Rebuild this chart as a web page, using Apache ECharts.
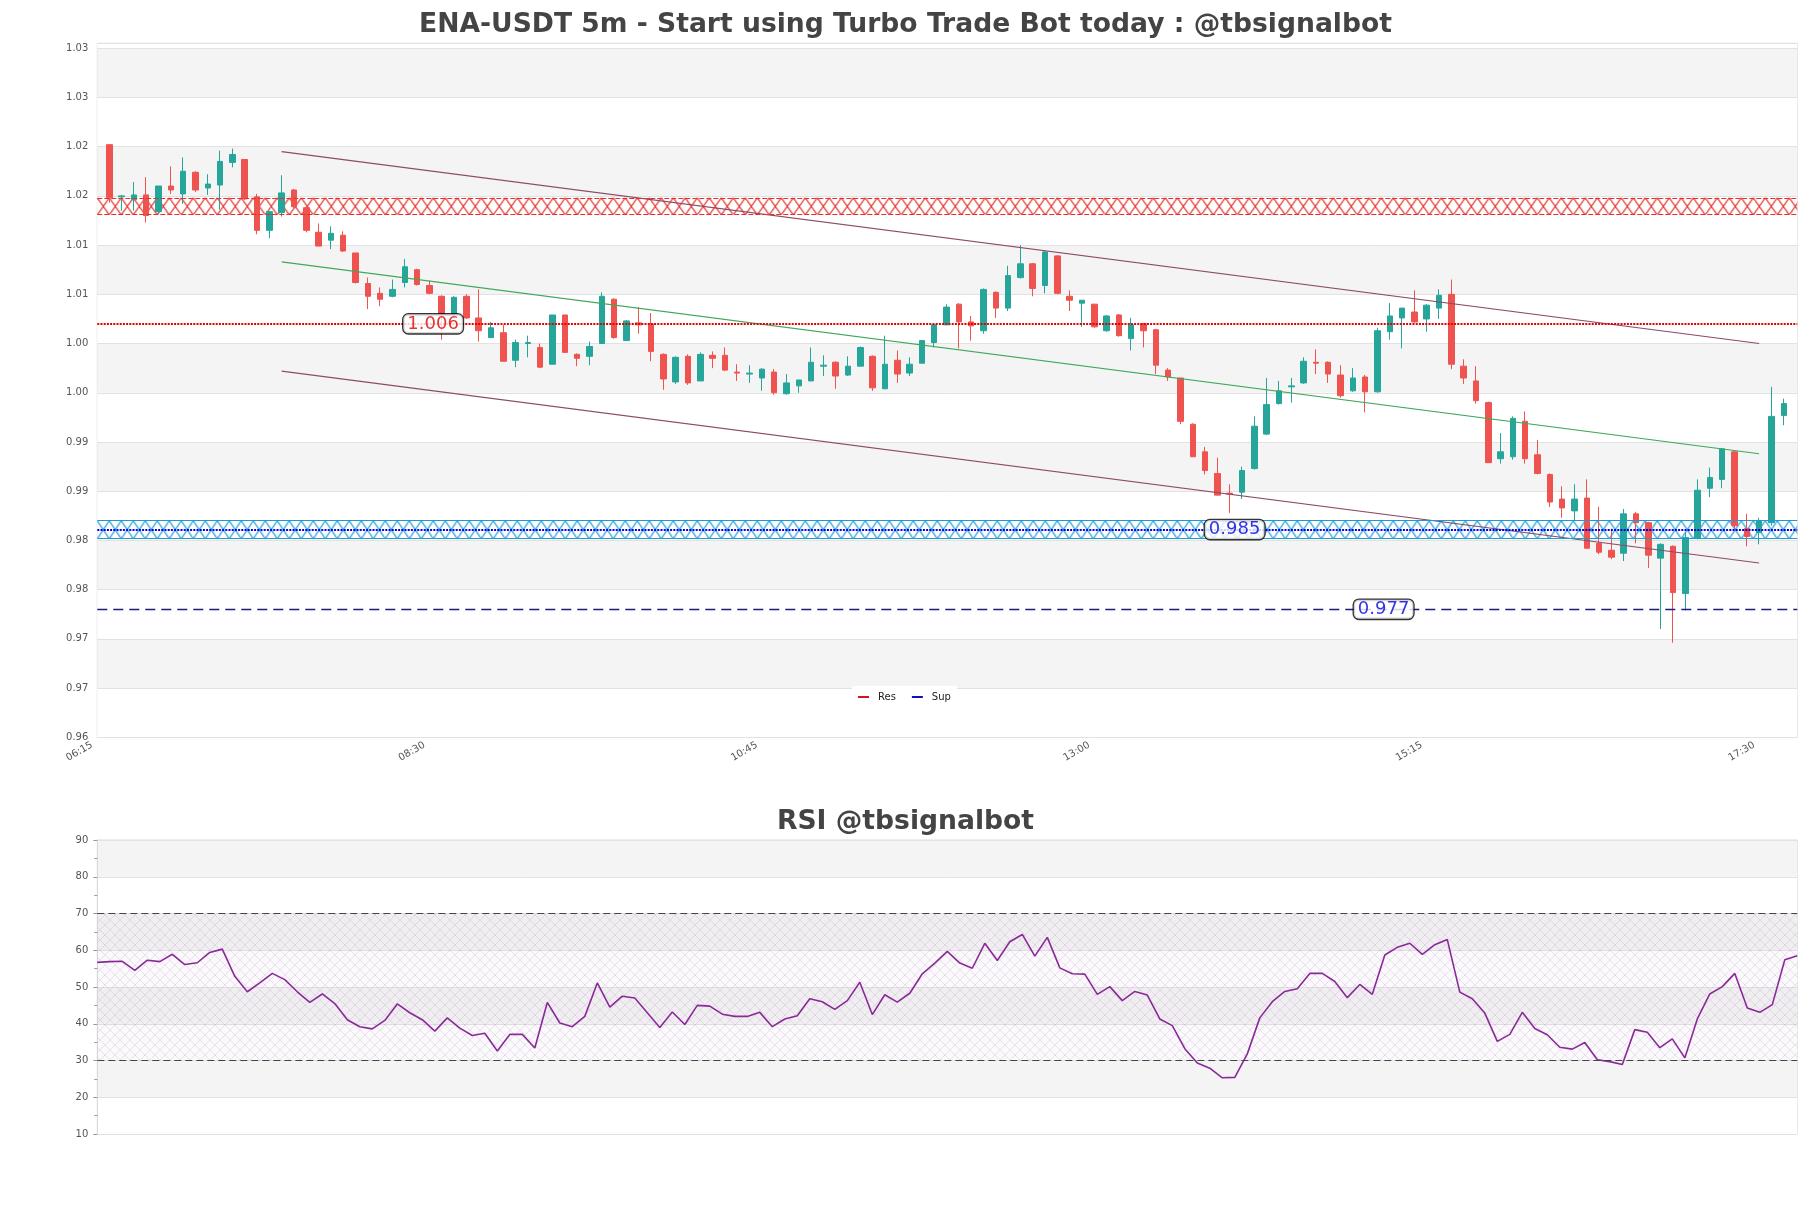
<!DOCTYPE html>
<html><head><meta charset="utf-8">
<script src="https://cdn.jsdelivr.net/npm/echarts@6/dist/echarts.min.js"></script>
<style>html,body{margin:0;padding:0;background:#fff}#c{width:1811px;height:1208px}</style>
</head><body><div id="c"></div>
<script>
// ---------------- data ----------------
const mainTitle = 'ENA-USDT 5m - Start using Turbo Trade Bot today : @tbsignalbot';
const rsiTitle = 'RSI @tbsignalbot';
const timeTickIndex = [0, 27, 54, 81, 108, 135];
const timeTickLabels = ['06:15', '08:30', '10:45', '13:00', '15:15', '17:30'];
const priceAxisMin = 0.964, priceAxisMax = 1.0345, priceAxisStep = 0.005;
const candleAxisMin = -0.975, candleAxisMax = 137.1;
// [open, high, low, close]
const candles = [
[1.0242,1.0242,1.0183,1.0188],[1.0189,1.0191,1.0175,1.0190],[1.0186,1.0204,1.0175,1.0191],[1.0191,1.0209,1.0163,1.0170],
[1.0174,1.0200,1.0172,1.0200],[1.0200,1.0220,1.0192,1.0196],[1.0192,1.0229,1.0182,1.0215],[1.0214,1.0215,1.0194,1.0196],
[1.0198,1.0212,1.0191,1.0202],[1.0201,1.0236,1.0176,1.0225],[1.0224,1.0238,1.0219,1.0232],[1.0227,1.0227,1.0186,1.0187],
[1.0189,1.0192,1.0151,1.0155],[1.0155,1.0174,1.0147,1.0174],[1.0173,1.0211,1.0169,1.0193],[1.0196,1.0197,1.0178,1.0179],
[1.0178,1.0180,1.0153,1.0155],[1.0153,1.0162,1.0139,1.0139],[1.0145,1.0159,1.0136,1.0152],[1.0150,1.0154,1.0133,1.0134],
[1.0132,1.0132,1.0101,1.0102],[1.0101,1.0107,1.0075,1.0088],[1.0091,1.0097,1.0078,1.0085],[1.0088,1.0105,1.0087,1.0095],
[1.0102,1.0126,1.0097,1.0118],[1.0115,1.0116,1.0099,1.0100],[1.0099,1.0104,1.0090,1.0091],[1.0088,1.0089,1.0044,1.0070],
[1.0070,1.0088,1.0069,1.0087],[1.0088,1.0090,1.0065,1.0066],[1.0066,1.0095,1.0042,1.0053],[1.0046,1.0062,1.0046,1.0056],
[1.0051,1.0059,1.0022,1.0022],[1.0023,1.0044,1.0016,1.0041],[1.0040,1.0048,1.0026,1.0041],[1.0036,1.0040,1.0015,1.0016],
[1.0019,1.0069,1.0019,1.0069],[1.0069,1.0069,1.0031,1.0031],[1.0029,1.0030,1.0017,1.0025],[1.0027,1.0042,1.0018,1.0037],
[1.0040,1.0092,1.0040,1.0088],[1.0085,1.0086,1.0045,1.0046],[1.0043,1.0064,1.0043,1.0063],[1.0061,1.0077,1.0050,1.0059],
[1.0060,1.0071,1.0022,1.0032],[1.0029,1.0030,0.9993,1.0004],[1.0001,1.0027,0.9999,1.0026],[1.0027,1.0029,0.9998,1.0000],
[1.0002,1.0031,1.0002,1.0029],[1.0028,1.0032,1.0015,1.0025],[1.0028,1.0036,1.0012,1.0013],[1.0011,1.0019,1.0002,1.0010],
[1.0009,1.0018,1.0000,1.0010],[1.0005,1.0015,0.9992,1.0014],[1.0011,1.0014,0.9988,0.9990],[0.9989,1.0009,0.9988,1.0000],
[0.9997,1.0003,0.9990,1.0003],[1.0002,1.0036,1.0002,1.0021],[1.0017,1.0028,1.0007,1.0018],[1.0021,1.0022,0.9994,1.0007],
[1.0008,1.0027,1.0007,1.0017],[1.0017,1.0037,1.0017,1.0036],[1.0027,1.0028,0.9992,0.9995],[0.9994,1.0048,0.9994,1.0019],
[1.0023,1.0033,1.0000,1.0009],[1.0010,1.0026,1.0007,1.0019],[1.0020,1.0043,1.0020,1.0043],[1.0041,1.0060,1.0036,1.0059],
[1.0059,1.0080,1.0059,1.0077],[1.0080,1.0081,1.0035,1.0062],[1.0062,1.0068,1.0043,1.0058],[1.0053,1.0096,1.0050,1.0095],
[1.0092,1.0093,1.0066,1.0076],[1.0076,1.0119,1.0073,1.0109],[1.0107,1.0140,1.0106,1.0121],[1.0121,1.0122,1.0088,1.0096],
[1.0099,1.0134,1.0091,1.0133],[1.0129,1.0130,1.0090,1.0091],[1.0088,1.0094,1.0073,1.0084],[1.0081,1.0084,1.0057,1.0084],
[1.0080,1.0080,1.0056,1.0057],[1.0053,1.0069,1.0052,1.0068],[1.0069,1.0070,1.0047,1.0048],[1.0045,1.0066,1.0033,1.0059],
[1.0060,1.0061,1.0036,1.0053],[1.0054,1.0055,1.0009,1.0018],[1.0013,1.0015,1.0002,1.0006],[1.0005,1.0005,0.9958,0.9961],
[0.9958,0.9959,0.9925,0.9925],[0.9930,0.9935,0.9907,0.9911],[0.9908,0.9924,0.9886,0.9886],[0.9888,0.9897,0.9868,0.9887],
[0.9889,0.9915,0.9882,0.9911],[0.9913,0.9966,0.9912,0.9956],[0.9948,1.0005,0.9947,0.9978],[0.9979,1.0002,0.9978,0.9992],
[0.9996,1.0005,0.9980,0.9997],[1.0000,1.0026,0.9999,1.0022],[1.0021,1.0034,1.0009,1.0020],[1.0021,1.0022,1.0000,1.0009],
[1.0008,1.0018,0.9985,0.9987],[0.9992,1.0015,0.9991,1.0005],[1.0006,1.0008,0.9970,0.9991],[0.9991,1.0056,0.9990,1.0053],
[1.0052,1.0081,1.0044,1.0068],[1.0066,1.0076,1.0035,1.0076],[1.0072,1.0094,1.0061,1.0062],[1.0065,1.0080,1.0052,1.0079],
[1.0076,1.0095,1.0065,1.0089],[1.0090,1.0105,1.0014,1.0019],[1.0017,1.0024,0.9999,1.0005],[1.0002,1.0017,0.9979,0.9982],
[0.9980,0.9981,0.9919,0.9919],[0.9923,0.9949,0.9918,0.9930],[0.9925,0.9966,0.9922,0.9964],[0.9961,0.9971,0.9918,0.9923],
[0.9927,0.9942,0.9907,0.9908],[0.9907,0.9908,0.9874,0.9879],[0.9882,0.9895,0.9863,0.9873],[0.9870,0.9897,0.9860,0.9882],
[0.9883,0.9902,0.9832,0.9832],[0.9837,0.9874,0.9826,0.9828],[0.9830,0.9852,0.9821,0.9823],[0.9827,0.9872,0.9819,0.9867],
[0.9867,0.9869,0.9837,0.9858],[0.9858,0.9859,0.9812,0.9825],[0.9822,0.9837,0.9750,0.9836],[0.9834,0.9835,0.9736,0.9787],
[0.9786,0.9848,0.9769,0.9843],[0.9842,0.9902,0.9841,0.9891],[0.9893,0.9914,0.9884,0.9904],[0.9902,0.9934,0.9893,0.9933],
[0.9930,0.9931,0.9851,0.9855],[0.9852,0.9867,0.9834,0.9844],[0.9848,0.9863,0.9836,0.9860],[0.9858,0.9996,0.9855,0.9966],
[0.9967,0.9984,0.9957,0.9979]
];
const rsiValues = [
56.7,56.9,57.0,54.5,57.3,56.9,58.9,56.1,56.6,59.4,
60.3,52.9,48.7,51.1,53.7,52.0,48.7,45.8,48.1,45.5,
41.1,39.2,38.6,40.9,45.4,43.0,41.1,38.0,41.6,38.8,
36.8,37.4,32.6,37.1,37.1,33.4,45.8,40.2,39.2,42.0,
51.1,44.5,47.5,47.0,43.0,39.0,43.2,39.8,45.0,44.8,
42.6,42.0,42.0,43.1,39.2,41.3,42.2,46.8,46.0,43.9,
46.3,51.3,42.5,47.9,45.9,48.3,53.6,56.5,59.7,56.5,
55.1,61.9,57.2,62.3,64.3,58.4,63.5,55.2,53.6,53.5,
48.0,50.1,46.3,48.8,47.8,41.3,39.5,33.2,29.3,27.9,
25.3,25.4,31.8,41.6,46.0,48.8,49.5,53.7,53.7,51.5,
47.1,50.7,48.0,58.7,60.8,61.9,58.9,61.5,62.9,48.6,
46.8,42.9,35.2,37.1,43.1,38.7,37.0,33.6,33.1,34.9,
30.2,29.7,28.9,38.4,37.7,33.5,35.9,30.7,41.3,48.1,
50.1,53.7,44.3,43.1,45.2,57.4,58.5
];
const resZone = [1.0171, 1.0188];
const supZone = [0.9842, 0.9860];
const resLevel = 1.006;
const supLevel = 0.9851;
const lowLevel = 0.977;
const resLabel = '1.006', supLabel = '0.985', lowLabel = '0.977';
const resLabelAt = 26.3, supLabelAt = 91.4, lowLabelAt = 103.5;
const channelUpper = [[14, 1.0235], [134, 1.0040]];
const channelMid = [[14, 1.0123], [134, 0.9928]];
const channelLower = [[14, 1.0012], [134, 0.9817]];
const rsiBands = [30, 70];
const rsiAxis = [10, 90, 10];

// ---------------- helpers ----------------
const FONT = 'DejaVu Sans';
const timeLabels = rsiValues.map((_, i) => String(i));
function xTile(w, h, color, lw) {
  const c = document.createElement('canvas');
  c.width = w; c.height = h;
  const g = c.getContext('2d');
  g.strokeStyle = color; g.lineWidth = lw;
  g.beginPath();
  g.moveTo(0, 0); g.lineTo(w, h);
  g.moveTo(w, 0); g.lineTo(0, h);
  g.stroke();
  return c;
}
function diagTile(w, color) {
  const c = document.createElement('canvas');
  c.width = w; c.height = w;
  const g = c.getContext('2d');
  g.strokeStyle = color; g.lineWidth = 0.8;
  g.beginPath();
  g.moveTo(0, 0); g.lineTo(w, w);
  g.moveTo(w, 0); g.lineTo(0, w);
  g.stroke();
  return c;
}
const candleData = candles.map((r, i) => [i, r[0], r[3], r[2], r[1]]);
const ML = {silent: true, symbol: 'none', precision: 8, label: {show: false}};

const chart = echarts.init(document.getElementById('c'), null, {renderer: 'canvas'});
function buildOption(resPat, supPat) {
  return {
    animation: false,
    backgroundColor: '#ffffff',
    textStyle: {fontFamily: FONT},
    title: [
      {text: mainTitle, left: 'center', top: 7, textStyle: {fontFamily: FONT, fontSize: 26.6, fontWeight: 'bold', color: '#444444'}},
      {text: rsiTitle, left: 'center', top: 804, textStyle: {fontFamily: FONT, fontSize: 26.6, fontWeight: 'bold', color: '#444444'}}
    ],
    legend: {
      data: ['Res', 'Sup'], left: 852, top: 686, icon: 'rect', itemWidth: 11, itemHeight: 2,
      itemGap: 16, padding: [6, 6], backgroundColor: '#ffffff',
      textStyle: {fontFamily: FONT, fontSize: 10, color: '#222', padding: [0, 0, 0, 4]}
    },
    grid: [
      {left: 97.3, top: 43.3, right: 13.7, height: 694, show: true, borderColor: '#dadada', borderWidth: 1, backgroundColor: 'transparent'},
      {left: 97.3, top: 840, right: 13.7, height: 294, show: true, borderColor: '#dadada', borderWidth: 1, backgroundColor: 'transparent'}
    ],
    xAxis: [
      {type: 'value', gridIndex: 0, min: candleAxisMin, max: candleAxisMax,
       axisLine: {show: false}, axisTick: {show: false}, splitLine: {show: false},
       axisLabel: {customValues: timeTickIndex, rotate: 30, margin: -3, padding: [0, 20, 0, 0],
         fontFamily: FONT, fontSize: 10, color: '#555',
         formatter: v => { const k = timeTickIndex.indexOf(Math.round(v)); return k >= 0 ? timeTickLabels[k] : ''; }}},
      {type: 'category', gridIndex: 1, data: timeLabels, boundaryGap: false,
       axisLine: {show: false}, axisTick: {show: false}, axisLabel: {show: false}, splitLine: {show: false}}
    ],
    yAxis: [
      {type: 'value', gridIndex: 0, min: priceAxisMin, max: priceAxisMax, interval: priceAxisStep,
       axisLine: {show: false}, axisTick: {show: false},
       axisLabel: {margin: 9, fontFamily: FONT, fontSize: 10, color: '#555',
         formatter: v => { const k = (v - priceAxisMin) / priceAxisStep; return Math.abs(k - Math.round(k)) < 1e-6 ? v.toFixed(2) : ''; }},
       splitLine: {show: true, lineStyle: {color: '#e2e2e2', width: 1}},
       splitArea: {show: true, areaStyle: {color: ['#ffffff', '#f4f4f4']}}},
      {type: 'value', gridIndex: 1, min: rsiAxis[0], max: rsiAxis[1], interval: rsiAxis[2],
       axisLine: {show: true, lineStyle: {color: '#dadada'}},
       axisTick: {show: true, length: 4, lineStyle: {color: '#999'}},
       minorTick: {show: true, splitNumber: 2, length: 3, lineStyle: {color: '#999'}},
       axisLabel: {margin: 9, fontFamily: FONT, fontSize: 10, color: '#555'},
       splitLine: {show: true, lineStyle: {color: '#e2e2e2', width: 1}},
       splitArea: {show: true, areaStyle: {color: ['#ffffff', '#f4f4f4']}}}
    ],
    series: [
      {id: 'zones', type: 'line', xAxisIndex: 0, yAxisIndex: 0, data: [], silent: true,
       markArea: {silent: true, data: [
         [{yAxis: resZone[0], itemStyle: {color: resPat, opacity: 1}}, {yAxis: resZone[1]}],
         [{yAxis: supZone[0], itemStyle: {color: supPat, opacity: 1}}, {yAxis: supZone[1]}]
       ]},
       markLine: Object.assign({}, ML, {data: [
         {yAxis: resZone[0], lineStyle: {color: '#e2302a', width: 1.2, type: [5, 2]}},
         {yAxis: resZone[1], lineStyle: {color: '#e2302a', width: 1.2, type: [5, 2]}},
         {yAxis: supZone[0], lineStyle: {color: '#1d9ad6', width: 1.2, type: 'solid'}},
         {yAxis: supZone[1], lineStyle: {color: '#1d9ad6', width: 1.2, type: 'solid'}}
       ]})},
      {name: 'chU', type: 'line', xAxisIndex: 0, yAxisIndex: 0, data: channelUpper, symbol: 'none', silent: true,
       lineStyle: {color: '#8c4b68', width: 1.1}},
      {name: 'chM', type: 'line', xAxisIndex: 0, yAxisIndex: 0, data: channelMid, symbol: 'none', silent: true,
       lineStyle: {color: '#3fa85a', width: 1.1}},
      {name: 'chL', type: 'line', xAxisIndex: 0, yAxisIndex: 0, data: channelLower, symbol: 'none', silent: true,
       lineStyle: {color: '#8c4b68', width: 1.1}},
      {name: 'Res', type: 'line', xAxisIndex: 0, yAxisIndex: 0, data: [], itemStyle: {color: '#dd1111'}, lineStyle: {color: '#dd1111'},
       markLine: Object.assign({}, ML, {lineStyle: {color: '#e00000', width: 2.2, type: [2, 1.2]}, data: [{yAxis: resLevel}]})},
      {name: 'Sup', type: 'line', xAxisIndex: 0, yAxisIndex: 0, data: [], itemStyle: {color: '#1111bb'}, lineStyle: {color: '#1111bb'},
       markLine: Object.assign({}, ML, {lineStyle: {color: '#0000ee', width: 2.2, type: [2, 1.2]}, data: [{yAxis: supLevel}]})},
      {name: 'low', type: 'line', xAxisIndex: 0, yAxisIndex: 0, data: [],
       markLine: Object.assign({}, ML, {lineStyle: {color: '#1c1c80', width: 1.3, type: [10, 6]}, data: [{yAxis: lowLevel}]})},
      {name: 'candles', type: 'candlestick', xAxisIndex: 0, yAxisIndex: 0, data: candleData, barWidth: 6,
       itemStyle: {color: '#26a69a', color0: '#ef5350', borderColor: '#26a69a', borderColor0: '#ef5350', borderWidth: 1}},
      {name: 'labels', type: 'scatter', xAxisIndex: 0, yAxisIndex: 0, symbolSize: 0, silent: true, z: 10,
       data: [
         {value: [resLabelAt, resLevel], label: {formatter: resLabel, color: '#e00000'}},
         {value: [supLabelAt, supLevel], label: {formatter: supLabel, color: '#0000dd'}},
         {value: [lowLabelAt, lowLevel], label: {formatter: lowLabel, color: '#0000dd'}}
       ],
       label: {show: true, position: 'inside', fontFamily: FONT, fontSize: 18, backgroundColor: '#ffffff',
         borderColor: '#000', borderWidth: 1.3, borderRadius: 5, padding: [1, 4, 0, 4], lineHeight: 18}},
      {name: 'RSI', type: 'line', xAxisIndex: 1, yAxisIndex: 1, data: rsiValues, symbol: 'none',
       lineStyle: {color: '#8a2a98', width: 1.6},
       markArea: {silent: true, data: [
         [{yAxis: rsiBands[0], itemStyle: {color: 'rgba(190,160,205,0.06)'}}, {yAxis: rsiBands[1]}],
         [{yAxis: rsiBands[0], itemStyle: {color: {image: diagTile(10, 'rgba(150,120,170,0.24)'), repeat: 'repeat'}}}, {yAxis: rsiBands[1]}]
       ]},
       markLine: Object.assign({}, ML, {lineStyle: {color: '#444', width: 1.2, type: [7, 4]}, data: [{yAxis: rsiBands[1]}, {yAxis: rsiBands[0]}]})}
    ]
  };
}
chart.setOption(buildOption('rgba(0,0,0,0)', 'rgba(0,0,0,0)'));
const pr = v => chart.convertToPixel({gridIndex: 0}, [0, v])[1];
const rTop = pr(resZone[1]), rBot = pr(resZone[0]);
const sTop = pr(supZone[1]), sBot = pr(supZone[0]);
const rH = Math.max(4, Math.round(rBot - rTop));
const sH = Math.max(4, Math.round(sBot - sTop));
const resPat = {image: xTile(12, rH, '#e2302a', 1.2), repeat: 'repeat', x: 97.3, y: rTop};
const supPat = {image: xTile(12, sH, '#1d9ad6', 1.2), repeat: 'repeat', x: 97.3, y: sTop};
chart.setOption(buildOption(resPat, supPat), true);
</script>
</body></html>
